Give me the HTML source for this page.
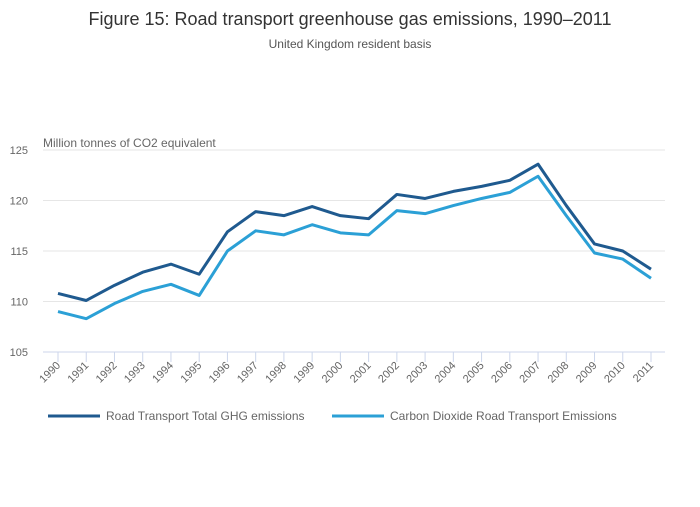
<!DOCTYPE html>
<html><head><meta charset="utf-8"><style>
body{margin:0;background:#fff;font-family:"Liberation Sans",sans-serif;}
svg text{font-family:"Liberation Sans",sans-serif;}
</style></head><body>
<svg id="chart" width="700" height="502">
<text x="350" y="25" text-anchor="middle" font-size="18" fill="#333">Figure 15: Road transport greenhouse gas emissions, 1990–2011</text>
<text x="350" y="48" text-anchor="middle" font-size="12" fill="#555">United Kingdom resident basis</text>
<text x="43" y="147" font-size="12" fill="#666">Million tonnes of CO2 equivalent</text>
<g id="grid"></g><g id="xticks"></g><g id="lines"></g>
<g>
<line x1="48" y1="416" x2="100" y2="416" stroke="#1f5a8f" stroke-width="3"/>
<text x="106" y="420" font-size="12" fill="#666">Road Transport Total GHG emissions</text>
<line x1="332" y1="416" x2="384" y2="416" stroke="#2ba0d6" stroke-width="3"/>
<text x="390" y="420" font-size="12" fill="#666">Carbon Dioxide Road Transport Emissions</text>
</g>
</svg>
<script>
const years=[1990,1991,1992,1993,1994,1995,1996,1997,1998,1999,2000,2001,2002,2003,2004,2005,2006,2007,2008,2009,2010,2011];
const totalGHG=[110.8,110.1,111.6,112.9,113.7,112.7,116.9,118.9,118.5,119.4,118.5,118.2,120.6,120.2,120.9,121.4,122.0,123.6,119.5,115.7,115.0,113.2];
const co2=[109.0,108.3,109.8,111.0,111.7,110.6,115.0,117.0,116.6,117.6,116.8,116.6,119.0,118.7,119.5,120.2,120.8,122.4,118.5,114.8,114.2,112.3];
const yTicks=[105,110,115,120,125];
const NS="http://www.w3.org/2000/svg";
const x=i=>58+i*(651-58)/(years.length-1);
const y=v=>352-(v-105)*(352-150)/20;
const grid=document.getElementById('grid');
yTicks.forEach(t=>{
 const l=document.createElementNS(NS,'line');
 l.setAttribute('x1',43);l.setAttribute('x2',665);l.setAttribute('y1',y(t));l.setAttribute('y2',y(t));
 l.setAttribute('stroke',t===105?'#ccd6eb':'#e6e6e6');
 
 
 grid.appendChild(l);
 const tx=document.createElementNS(NS,'text');
 tx.setAttribute('x',28);tx.setAttribute('y',y(t)+4);tx.setAttribute('text-anchor','end');
 tx.setAttribute('font-size','11');tx.setAttribute('fill','#666');tx.textContent=t;
 
 
 grid.appendChild(tx);
});
const xt=document.getElementById('xticks');
years.forEach((yr,i)=>{
 const l=document.createElementNS(NS,'line');
 l.setAttribute('x1',x(i));l.setAttribute('x2',x(i));l.setAttribute('y1',352);l.setAttribute('y2',362);
 l.setAttribute('stroke','#ccd6eb');
 
 
 xt.appendChild(l);
 const tx=document.createElementNS(NS,'text');
 const px=x(i)+3,py=366;
 tx.setAttribute('x',px);tx.setAttribute('y',py);tx.setAttribute('text-anchor','end');
 tx.setAttribute('transform',`rotate(-45 ${px} ${py})`);
 tx.setAttribute('font-size','11');tx.setAttribute('fill','#666');tx.textContent=yr;
 
 
 xt.appendChild(tx);
});
const lines=document.getElementById('lines');
[[co2,'#2ba0d6','line-co2'],[totalGHG,'#1f5a8f','line-total-ghg']].forEach(([d,c,n])=>{
 const p=document.createElementNS(NS,'path');
 p.setAttribute('d',d.map((v,i)=>(i?'L':'M')+x(i)+' '+y(v)).join(' '));
 p.setAttribute('fill','none');p.setAttribute('stroke',c);p.setAttribute('stroke-width','3');
 p.setAttribute('stroke-linejoin','round');
 
 
 lines.appendChild(p);
});
</script>
</body></html>
